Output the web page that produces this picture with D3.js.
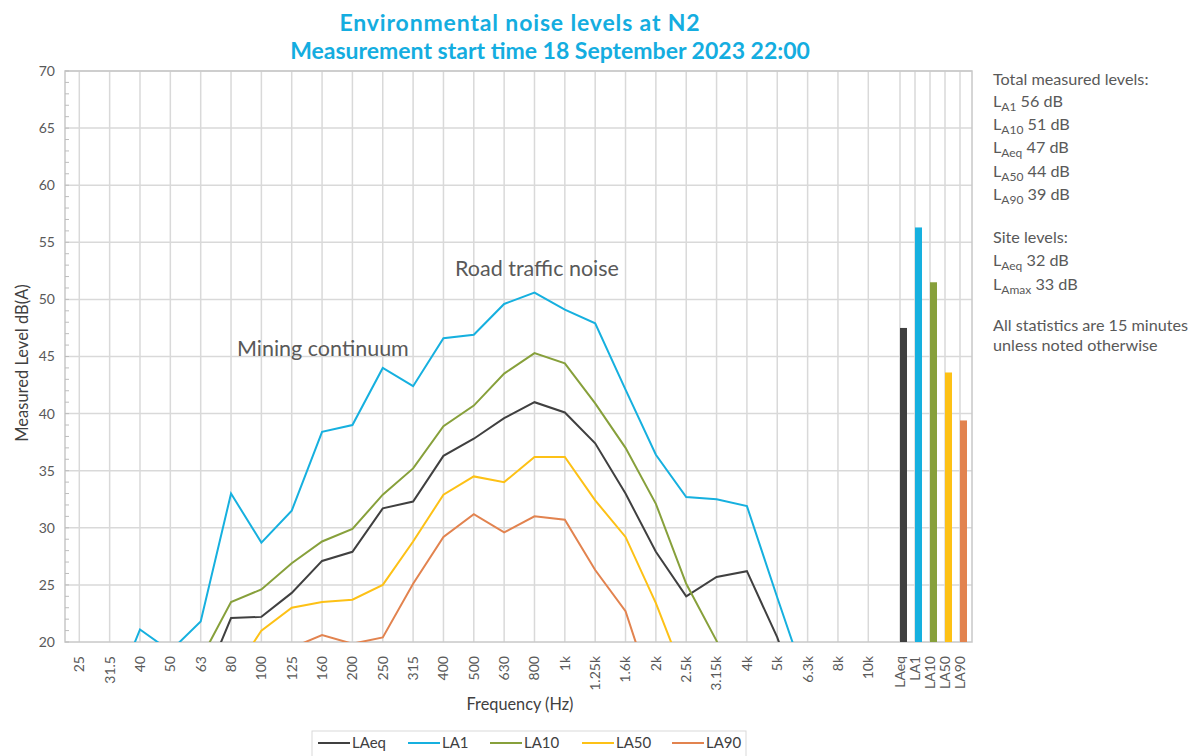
<!DOCTYPE html>
<html>
<head>
<meta charset="utf-8">
<script src="https://cdn.jsdelivr.net/npm/d3@7"></script>
<style>
  body { margin: 0; background: #fff; }
  svg text { font-family: Lato, "Open Sans", sans-serif; }
</style>
</head>
<body>
<div id="chart"></div>
<script>
// 1/3 octave bands and statistics (values under 20 dB are hidden below the axis)
var freqs = ['25','31.5','40','50','63','80','100','125','160','200','250','315','400','500','630','800',
  '1k','1.25k','1.6k','2k','2.5k','3.15k','4k','5k','6.3k','8k','10k']
var LAeq = [10,11,13,14,15.7,22.1,22.2,24.3,27.1,27.9,31.7,32.3,36.3,37.8,39.6,41.0,40.1,37.4,33.0,27.9,24.0,25.7,26.2,20.4,13,10,9]
var LA1  = [13,14.5,21.1,19.2,21.8,33.0,28.7,31.5,38.4,39.0,44.0,42.4,46.6,46.9,49.6,50.6,49.1,47.9,42.1,36.4,32.7,32.5,31.9,23.9,16.1,12,10]
var LA10 = [9,10,12,13,18.5,23.5,24.6,26.9,28.8,29.9,32.9,35.2,38.9,40.7,43.5,45.3,44.4,40.9,37.0,32.1,25.1,20.1,14,11,9,8,7]
var LA50 = [7,8,9,11,13,16.9,21.0,23.0,23.5,23.7,25.0,28.8,32.9,34.5,34.0,36.2,36.2,32.4,29.2,23.4,16.6,12,10,8,7,6,5]
var LA90 = [5,6,7,8,10,12,15,19.5,20.6,19.85,20.4,25.1,29.2,31.2,29.6,31.0,30.7,26.3,22.7,14.6,10,8,6,5,4,3,3]

var totalNames = ['LAeq','LA1','LA10','LA50','LA90']
var totalValues = [47.5,56.3,51.5,43.6,39.4]
var yTicks = [20,25,30,35,40,45,50,55,60,65,70]

var seriesNames = ['LAeq','LA1','LA10','LA50','LA90']
var seriesValues = [LAeq, LA1, LA10, LA50, LA90]
var colors = {LAeq:'#404040', LA1:'#16b0df', LA10:'#87a03b', LA50:'#fdc116', LA90:'#e2834f'}

var notes = [
  {sub:null, text:'Total measured levels:'},
  {sub:'A1', text:' 56 dB'},
  {sub:'A10', text:' 51 dB'},
  {sub:'Aeq', text:' 47 dB'},
  {sub:'A50', text:' 44 dB'},
  {sub:'A90', text:' 39 dB'},
  {sub:null, text:'Site levels:'},
  {sub:'Aeq', text:' 32 dB'},
  {sub:'Amax', text:' 33 dB'},
  {sub:null, text:'All statistics are 15 minutes'},
  {sub:null, text:'unless noted otherwise'}
]
var noteY = [79,101,124,147,171,194,237,260,284,325,345]

var W = 1194, H = 756
var L = 65, R = 972, T = 71, B = 642

var svg = d3.select('#chart').append('svg')
  .attr('width', W).attr('height', H)

var xF = d3.scalePoint().domain(freqs).range([79.3, 868.3])
var xT = d3.scalePoint().domain(totalNames).range([900, 960])
var y = d3.scaleLinear().domain([20, 70]).range([B, T])

// title
svg.append('text').attr('x', 520).attr('y', 31)
  .attr('text-anchor','middle').attr('fill','#14ade0')
  .style('font-weight','bold').style('font-size','23px').style('letter-spacing','0.85px')
  .text('Environmental noise levels at N2')
svg.append('text').attr('x', 550).attr('y', 59)
  .attr('text-anchor','middle').attr('fill','#14ade0')
  .style('font-weight','bold').style('font-size','23px')
  .text('Measurement start time 18 September 2023 22:00')

// grid
var grid = svg.append('g').attr('stroke','#d9d9d9').attr('stroke-width',1.5)
grid.selectAll('line.h').data(yTicks.slice(1)).enter().append('line')
  .attr('x1', L).attr('x2', R).attr('y1', d => y(d)).attr('y2', d => y(d))
grid.selectAll('line.vf').data(freqs).enter().append('line')
  .attr('x1', d => xF(d)).attr('x2', d => xF(d)).attr('y1', T).attr('y2', B)
grid.selectAll('line.vt').data(totalNames).enter().append('line')
  .attr('x1', d => xT(d)).attr('x2', d => xT(d)).attr('y1', T).attr('y2', B)

svg.append('rect').attr('x', L).attr('y', T).attr('width', R - L).attr('height', B - T)
  .attr('fill','none').attr('stroke','#c8c8c8').attr('stroke-width',1.5)

// minor ticks on the y axis
svg.append('g').selectAll('line').data(d3.range(20, 71)).enter().append('line')
  .attr('x1', L).attr('x2', L + 4).attr('y1', d => y(d)).attr('y2', d => y(d))
  .attr('stroke','#bdbdbd').attr('stroke-width',1)

// y tick labels
svg.append('g').selectAll('text').data(yTicks).enter().append('text')
  .attr('x', 55).attr('y', d => y(d)).attr('dy','0.35em')
  .attr('text-anchor','end').attr('fill','#595959').style('font-size','14px')
  .text(d => d)

// x tick labels
var xl = svg.append('g').attr('fill','#595959').style('font-size','14px')
xl.selectAll('text.f').data(freqs).enter().append('text')
  .attr('transform', d => 'translate(' + xF(d) + ',656) rotate(-90)')
  .attr('dy','0.35em').attr('text-anchor','end').text(d => d)
xl.selectAll('text.t').data(totalNames).enter().append('text')
  .attr('transform', d => 'translate(' + xT(d) + ',656) rotate(-90)')
  .attr('dy','0.35em').attr('text-anchor','end').text(d => d)

// axis titles
svg.append('text').attr('transform','translate(22,363) rotate(-90)')
  .attr('dy','0.35em').attr('text-anchor','middle').attr('fill','#404040').style('font-size','16.5px')
  .text('Measured Level dB(A)')
svg.append('text').attr('x', 520).attr('y', 710)
  .attr('text-anchor','middle').attr('fill','#404040').style('font-size','16.3px')
  .text('Frequency (Hz)')

// clipped lines
svg.append('clipPath').attr('id','plotClip').append('rect')
  .attr('x', L).attr('y', T).attr('width', R - L).attr('height', B - T)

var line = d3.line().x((d, i) => xF(freqs[i])).y(d => y(d))
svg.append('g').attr('clip-path','url(#plotClip)')
  .selectAll('path').data(seriesNames).enter().append('path')
  .attr('d', (d, i) => line(seriesValues[i]))
  .attr('fill','none').attr('stroke', d => colors[d]).attr('stroke-width',2)

// total bars
svg.append('g').selectAll('rect').data(totalNames).enter().append('rect')
  .attr('x', d => xT(d)).attr('width', 7)
  .attr('y', (d, i) => y(totalValues[i]))
  .attr('height', (d, i) => y(20) - y(totalValues[i]))
  .attr('fill', d => colors[d])

// annotations
svg.append('text').attr('x', 455).attr('y', 276).attr('fill','#595959')
  .style('font-size','21.5px').text('Road traffic noise')
svg.append('text').attr('x', 237).attr('y', 356).attr('fill','#595959')
  .style('font-size','21.5px').text('Mining continuum')

// notes on the right
var nt = svg.append('g').attr('fill','#595959').style('font-size','16.2px')
notes.forEach(function(n, i){
  var t = nt.append('text').attr('x', 993).attr('y', noteY[i]).attr('dy','0.35em')
  if(n.sub){
    t.append('tspan').text('L')
    t.append('tspan').attr('dy', 4).style('font-size','12px').text(n.sub)
    t.append('tspan').attr('dy', -4).text(n.text)
  }else{
    t.text(n.text)
  }
})

// legend
var lg = svg.append('g')
lg.append('rect').attr('x', 312).attr('y', 731).attr('width', 434).attr('height', 40)
  .attr('fill','#fff').attr('stroke','#d9d9d9')
var legX = [318, 408, 490, 582, 672]
seriesNames.forEach(function(s, i){
  lg.append('line').attr('x1', legX[i]).attr('x2', legX[i] + 32)
    .attr('y1', 743).attr('y2', 743).attr('stroke', colors[s]).attr('stroke-width',2)
  lg.append('text').attr('x', legX[i] + 34).attr('y', 743).attr('dy','0.35em')
    .attr('fill','#404040').style('font-size','15px').text(s)
})
</script>
</body>
</html>
